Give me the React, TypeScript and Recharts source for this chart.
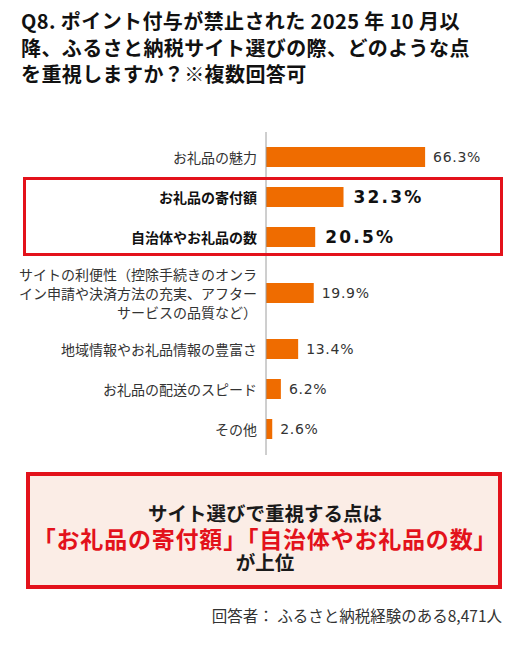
import React from 'react';
import { BarChart, Bar, XAxis, YAxis, LabelList } from 'recharts';

const categories = [
  'お礼品の魅力',
  'お礼品の寄付額',
  '自治体やお礼品の数',
  'サイトの利便性（控除手続きのオンラ\nイン申請や決済方法の充実、アフター\nサービスの品質など）',
  '地域情報やお礼品情報の豊富さ',
  'お礼品の配送のスピード',
  'その他',
];
const values = [66.3, 32.3, 20.5, 19.9, 13.4, 6.2, 2.6];
const highlighted = [false, true, true, false, false, false, false];

const titleLines = [
  'Q8. ポイント付与が禁止された 2025 年 10 月以',
  '降、ふるさと納税サイト選びの際、どのような点',
  'を重視しますか？※複数回答可',
];
const summaryLines = ['サイト選びで重視する点は', '「お礼品の寄付額」「自治体やお礼品の数」', 'が上位'];
const footnote = '回答者： ふるさと納税経験のある8,471人';

const rows = categories.map((name, i) => ({ name, value: values[i], highlight: highlighted[i] }));

const JP = '"Noto Sans CJK JP", "Noto Sans", sans-serif';
const NUM = '"DejaVu Sans", sans-serif';
const ORANGE = '#EF6C00';
const RED = '#E3121B';

type Row = { name: string; value: number; highlight: boolean };

const makeTick = (data: Row[]) => (props: any) => {
  const { x, y, payload } = props;
  const row = data.find((r) => r.name === payload.value);
  const lines = String(payload.value).split('\n');
  const lh = 19;
  const start = -((lines.length - 1) * lh) / 2;
  return (
    <g>
      {lines.map((ln, i) => (
        <text
          key={i}
          x={x}
          y={y + start + i * lh}
          textAnchor="end"
          dominantBaseline="central"
          fontFamily={JP}
          fontSize={14}
          fontWeight={row && row.highlight ? 700 : 400}
          fill={row && row.highlight ? '#111' : '#333'}
        >
          {ln}
        </text>
      ))}
    </g>
  );
};

const makeLabel = (data: Row[]) => (props: any) => {
  const { x, y, width, height, value, index } = props;
  const hl = data[index] && data[index].highlight;
  return (
    <text
      x={x + width + (hl ? 10 : 8)}
      y={y + height / 2}
      dominantBaseline="central"
      fontFamily={NUM}
      fontSize={hl ? 17 : 14}
      fontWeight={hl ? 700 : 400}
      letterSpacing={hl ? 2.2 : 0.7}
      fill={hl ? '#111' : '#333'}
    >
      {`${value.toFixed(1)}%`}
    </text>
  );
};

const Part = ({ data, top, height, padTop, padBottom }: { data: Row[]; top: number; height: number; padTop: number; padBottom: number }) => (
  <div style={{ position: 'absolute', left: 0, top, width: 520, height }}>
    <BarChart
      width={520}
      height={height}
      data={data}
      layout="vertical"
      margin={{ top: 0, right: 14, bottom: 0, left: 0 }}
      barCategoryGap={0}
    >
      <XAxis type="number" domain={[0, 100]} hide />
      <YAxis
        type="category"
        dataKey="name"
        width={266}
        interval={0}
        tickLine={false}
        tickSize={0}
        tickMargin={9}
        axisLine={{ stroke: '#9E9E9E', strokeWidth: 1 }}
        padding={{ top: padTop, bottom: padBottom }}
        tick={makeTick(data)}
      />
      <Bar dataKey="value" fill={ORANGE} barSize={20} isAnimationActive={false}>
        <LabelList dataKey="value" content={makeLabel(data)} />
      </Bar>
    </BarChart>
  </div>
);

export default function App() {
  return (
    <div style={{ position: 'absolute', left: 0, top: 0, width: 520, height: 658, background: '#fff', fontFamily: JP, overflow: 'hidden' }}>
      {titleLines.map((t, i) => (
        <div
          key={i}
          style={{
            position: 'absolute',
            left: 21,
            top: 8 + i * 26.5,
            height: 26.5,
            lineHeight: '26.5px',
            fontSize: 20,
            fontWeight: 700,
            letterSpacing: 0.4,
            color: '#111',
            whiteSpace: 'nowrap',
          }}
        >
          {t}
        </div>
      ))}

      <Part data={rows.slice(0, 3)} top={132} height={125} padTop={5} padBottom={0} />
      <Part data={rows.slice(3, 4)} top={257} height={72} padTop={0} padBottom={0} />
      <Part data={rows.slice(4, 7)} top={329} height={126} padTop={0} padBottom={6} />

      <div
        style={{
          position: 'absolute',
          left: 23,
          top: 177,
          width: 480,
          height: 79,
          border: `3px solid ${RED}`,
          boxSizing: 'border-box',
          pointerEvents: 'none',
        }}
      />

      <div
        style={{
          position: 'absolute',
          left: 26,
          top: 472,
          width: 476,
          height: 117,
          border: `4px solid ${RED}`,
          background: '#FBEDE6',
          boxSizing: 'border-box',
        }}
      />
      {summaryLines.map((t, i) => (
        <div
          key={i}
          style={{
            position: 'absolute',
            left: 26,
            width: 478,
            top: [513, 538, 562][i] - 12,
            height: 24,
            lineHeight: '24px',
            textAlign: 'center',
            fontSize: i === 1 ? 23 : 19.5,
            fontWeight: 700,
            letterSpacing: i === 1 ? 0.8 : 0,
            color: i === 1 ? RED : '#1a1a1a',
            whiteSpace: 'nowrap',
          }}
        >
          {t}
        </div>
      ))}

      <div
        style={{
          position: 'absolute',
          right: 18,
          top: 603,
          height: 24,
          lineHeight: '24px',
          fontSize: 15.5,
          color: '#333',
          whiteSpace: 'nowrap',
        }}
      >
        {footnote}
      </div>
    </div>
  );
}
